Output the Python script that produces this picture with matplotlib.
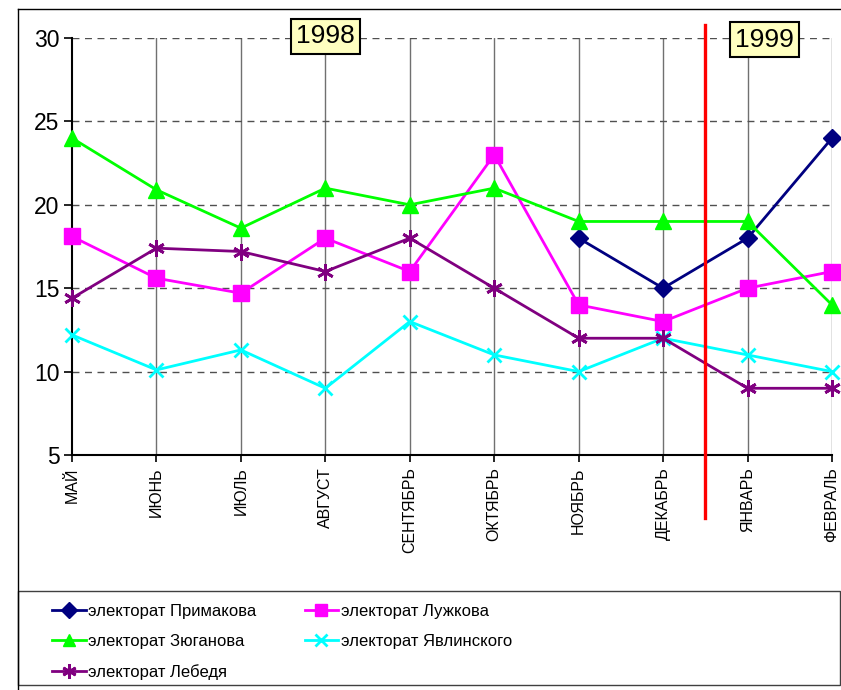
import matplotlib
matplotlib.use("Agg")
import matplotlib.pyplot as plt
import numpy as np
from matplotlib.patches import Rectangle
from matplotlib.lines import Line2D

plt.rcParams['font.family'] = ['Liberation Sans', 'DejaVu Sans']

months = ['МАЙ', 'ИЮНЬ', 'ИЮЛЬ', 'АВГУСТ', 'СЕНТЯБРЬ', 'ОКТЯБРЬ',
          'НОЯБРЬ', 'ДЕКАБРЬ', 'ЯНВАРЬ', 'ФЕВРАЛЬ']
primakov = [np.nan, np.nan, np.nan, np.nan, np.nan, np.nan, 18, 15, 18, 24]
luzhkov = [18.1, 15.6, 14.7, 18, 16, 23, 14, 13, 15, 16]
zyuganov = [24, 20.9, 18.6, 21, 20, 21, 19, 19, 19, 14]
yavlinsky = [12.2, 10.1, 11.3, 9, 13, 11, 10, 12, 11, 10]
lebed = [14.4, 17.4, 17.2, 16, 18, 15, 12, 12, 9, 9]

names = ['электорат Примакова', 'электорат Лужкова', 'электорат Зюганова',
         'электорат Явлинского', 'электорат Лебедя']
colors = ['#000080', '#FF00FF', '#00FF00', '#00FFFF', '#800080']

fig = plt.figure(figsize=(8.41, 6.90), dpi=100)
ax = fig.add_axes([72 / 841, 1 - 455 / 690, (832 - 72) / 841, (455 - 38) / 690])

x = np.arange(len(months))
lw = 2
h_prim, = ax.plot(x, primakov, color=colors[0], lw=lw, marker='D', ms=9,
                  label=names[0], clip_on=False, zorder=5)
h_luzh, = ax.plot(x, luzhkov, color=colors[1], lw=lw, marker='s', ms=11,
                  label=names[1], clip_on=False, zorder=5)
h_zyug, = ax.plot(x, zyuganov, color=colors[2], lw=lw, marker='^', ms=11,
                  label=names[2], clip_on=False, zorder=5)
h_yavl, = ax.plot(x, yavlinsky, color=colors[3], lw=lw, marker='x', ms=10, mew=2,
                  label=names[3], clip_on=False, zorder=5)
h_leb, = ax.plot(x, lebed, color=colors[4], lw=lw, marker=(6, 2, 0), ms=12, mew=2,
                 label=names[4], clip_on=False, zorder=5)

ax.set_xlim(0, 9)
ax.set_ylim(5, 30)
ax.set_yticks([5, 10, 15, 20, 25, 30])
ax.set_xticks(x)
ax.set_xticklabels(months, rotation=90, fontsize=11.5, va='top')
ax.tick_params(axis='y', labelsize=16.5, length=6, width=1.2, direction='out', pad=3)
ax.tick_params(axis='x', length=5, width=1.2, direction='out', pad=4)

# grid: solid verticals, dashed horizontals
for xi in x[1:]:
    ax.axvline(xi, color='#707070', lw=1, zorder=1)
for yi in [10, 15, 20, 25, 30]:
    ax.axhline(yi, color='#505050', lw=1, ls=(0, (5, 4)), zorder=1)
for s in ['top', 'right']:
    ax.spines[s].set_visible(False)
ax.spines['left'].set_linewidth(1.5)
ax.spines['bottom'].set_linewidth(1.5)

# red boundary between years
ax.plot([7.5, 7.5], [30.78, 1.22], color='#FF0000', lw=2.4, clip_on=False, zorder=6)

box = dict(boxstyle='square,pad=0.2', facecolor='#FFFFC0', edgecolor='black', lw=1.5)
ax.text(3, 30.1, '1998', fontsize=19, ha='center', va='center', bbox=box, zorder=7)
ax.text(8.2, 29.9, '1999', fontsize=19, ha='center', va='center', bbox=box, zorder=7)

# chart area border
fig.add_artist(Line2D([18 / 841, 18 / 841], [0, 1 - 9 / 690], color='black', lw=1))
fig.add_artist(Line2D([18 / 841, 1], [1 - 9 / 690, 1 - 9 / 690], color='black', lw=1))

# legend frame
fig.add_artist(Rectangle((18 / 841, 1 - 685 / 690), (840 - 18) / 841, (685 - 591) / 690,
                         transform=fig.transFigure, fill=False, edgecolor='#404040', lw=1))

handles = [h_prim, h_zyug, h_leb, h_luzh, h_yavl]
fig.legend(handles=handles, labels=[h.get_label() for h in handles], ncol=2,
           loc='upper left', bbox_to_anchor=(44 / 841, 1 - 596 / 690),
           frameon=False, fontsize=12,
           handlelength=2.0, handletextpad=0.15, columnspacing=2.9,
           labelspacing=0.88, markerscale=0.85, borderpad=0)

fig.savefig('out.png', dpi=100)
